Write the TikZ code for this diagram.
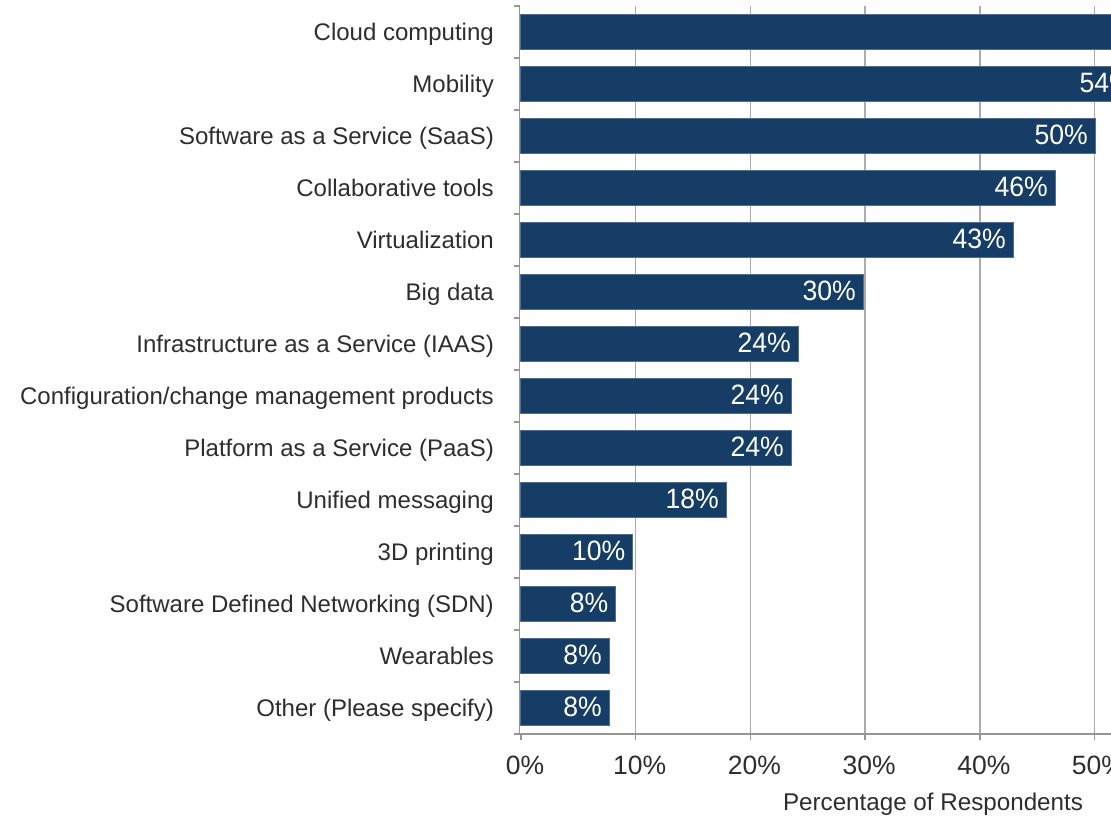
\documentclass[tikz,border=0pt]{standalone}
\usepackage{fontspec}
\setmainfont{Liberation Sans}
\newfontfamily\valfont[FakeStretch=0.95]{Liberation Sans}
\definecolor{barc}{RGB}{22,61,102}
\definecolor{gridc}{RGB}{172,172,172}
\definecolor{axisc}{RGB}{150,150,150}
\definecolor{txtc}{RGB}{45,45,45}
\begin{document}
\begin{tikzpicture}[x=1pt,y=-1pt,
  cat/.style={anchor=base east, text=txtc, font=\fontsize{24}{28}\selectfont, inner sep=0pt},
  val/.style={anchor=base east, text=white, font=\valfont\fontsize{28}{30}\selectfont, inner sep=0pt},
  ticklab/.style={anchor=base, text=txtc, font=\fontsize{26.5}{30}\selectfont, inner sep=0pt},
  axtitle/.style={anchor=base, text=txtc, font=\fontsize{24.2}{28}\selectfont, inner sep=0pt},
  gridline/.style={draw=gridc, line width=1.5pt},
  axisline/.style={draw=axisc, line width=1.5pt},
  barfill/.style={fill=barc, draw=barc!75!white, line width=0.8pt}]
\useasboundingbox (0,0) rectangle (1111,816);
\clip (0,0) rectangle (1111,816);
% gridlines
\foreach \k in {1,...,5} {
  \coordinate (gt\k) at ({521+114.7*\k},6);
  \coordinate (gb\k) at ({521+114.7*\k},734);
  \draw[gridline] (gt\k) -- (gb\k);
}
% bars
\foreach \i/\e in {0/1200,1/1140,2/1095,3/1055,4/1013,5/863,6/798,7/791,8/791,9/726,10/632.5,11/615.5,12/609,13/609} {
  \filldraw[barfill] (520,{14.8+52*\i}) rectangle (\e,{49.3+52*\i});
}
% axes
\coordinate (yt) at (519.5,6);
\coordinate (yb) at (519.5,734);
\coordinate (xr) at (1111,734);
\draw[axisline] (yt) -- (yb) -- (xr);
\foreach \i in {0,...,14} {
  \coordinate (lt\i) at (514,{6+52*\i});
  \coordinate (lr\i) at (519.5,{6+52*\i});
  \draw[axisline] (lt\i) -- (lr\i);
}
\foreach \k in {0,...,5} {
  \coordinate (bt\k) at ({521+114.7*\k},734);
  \coordinate (bb\k) at ({521+114.7*\k},740);
  \draw[axisline] (bt\k) -- (bb\k);
}
% category labels
\node[cat] (c0) at (494,40.6) {Cloud computing};
\node[cat] (c1) at (494,92.6) {Mobility};
\node[cat] (c2) at (494,144.6) {Software as a Service (SaaS)};
\node[cat] (c3) at (494,196.6) {Collaborative tools};
\node[cat] (c4) at (494,248.6) {Virtualization};
\node[cat] (c5) at (494,300.6) {Big data};
\node[cat] (c6) at (494,352.6) {Infrastructure as a Service (IAAS)};
\node[cat] (c7) at (494,404.6) {Configuration/change management products};
\node[cat] (c8) at (494,456.6) {Platform as a Service (PaaS)};
\node[cat] (c9) at (494,508.6) {Unified messaging};
\node[cat] (c10) at (494,560.6) {3D printing};
\node[cat] (c11) at (494,612.6) {Software Defined Networking (SDN)};
\node[cat] (c12) at (494,664.6) {Wearables};
\node[cat] (c13) at (494,716.6) {Other (Please specify)};
% value labels
\node[val] (v1) at (1133,92.2) {54\%};
\node[val] (v2) at (1088,144.2) {50\%};
\node[val] (v3) at (1048,196.2) {46\%};
\node[val] (v4) at (1006,248.2) {43\%};
\node[val] (v5) at (856,300.2) {30\%};
\node[val] (v6) at (791,352.2) {24\%};
\node[val] (v7) at (784,404.2) {24\%};
\node[val] (v8) at (784,456.2) {24\%};
\node[val] (v9) at (719,508.2) {18\%};
\node[val] (v10) at (625.5,560.2) {10\%};
\node[val] (v11) at (608.5,612.2) {8\%};
\node[val] (v12) at (602,664.2) {8\%};
\node[val] (v13) at (602,716.2) {8\%};
% tick labels
\foreach \k/\l in {0/0,1/10,2/20,3/30,4/40,5/50} {
  \node[ticklab] (t\k) at ({525+114.7*\k},774) {\l\%};
}
\node[axtitle] (xt) at (933,810.5) {Percentage of Respondents};
\end{tikzpicture}
\end{document}
